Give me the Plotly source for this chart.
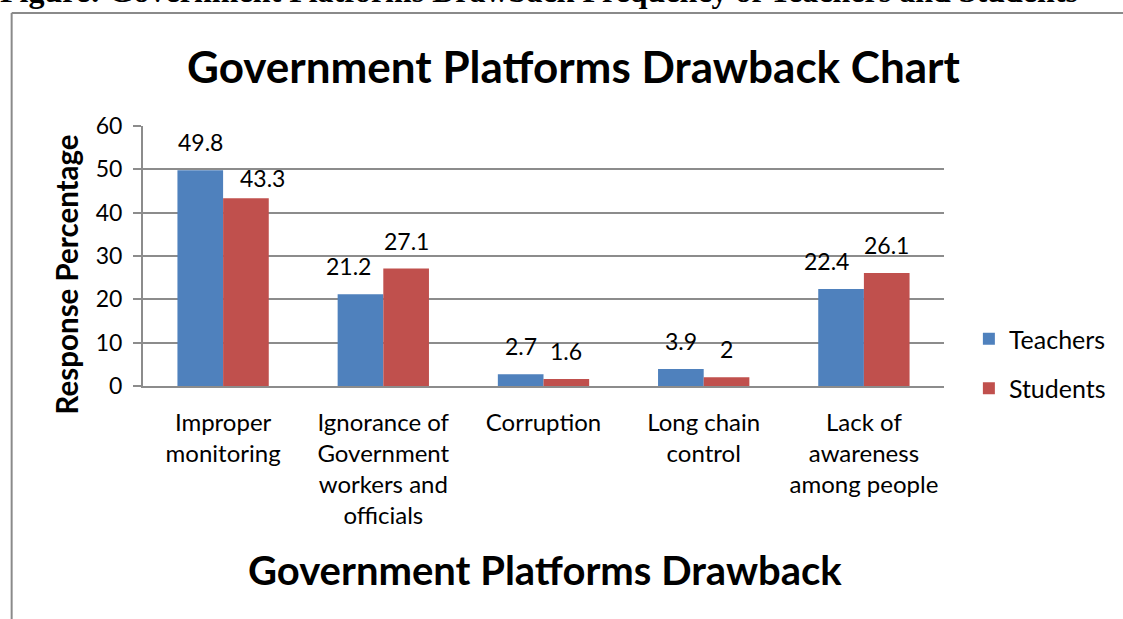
import plotly.graph_objects as go

# ---- data ----
categories = [
    "Improper<br>monitoring",
    "Ignorance of<br>Government<br>workers and<br>officials",
    "Corruption",
    "Long chain<br>control",
    "Lack of<br>awareness<br>among people",
]
teachers = [49.8, 21.2, 2.7, 3.9, 22.4]
students = [43.3, 27.1, 1.6, 2.0, 26.1]
series_names = ["Teachers", "Students"]
y_ticks = [0, 10, 20, 30, 40, 50, 60]

# ---- style ----
W, H = 1123, 619
ML, MR, MT, MB = 143, 175, 126, 233
PW, PH = W - ML - MR, H - MT - MB
FONT = "Lato"
BLUE, RED = "#4F81BD", "#C0504D"
GRID = "#8c8c8c"
BARGAP = 0.43

def px_x(px):
    return (px - ML) / PW

def px_y(py):
    return (H - MB - py) / PH

fig = go.Figure()
for name, vals, col in [(series_names[0], teachers, BLUE), (series_names[1], students, RED)]:
    fig.add_trace(go.Bar(
        x=categories, y=vals, name=name, marker=dict(color=col, line=dict(width=0)),
        legendgroup=name,
    ))

# data labels (Excel-like, a few manually nudged as in the original)
bar_w = PW / len(categories) * (1 - BARGAP) / 2
nudge = {(0, 1): (16, -8), (1, 0): (-12, 0), (4, 0): (-14, 0)}
for s, vals in enumerate([teachers, students]):
    for i, v in enumerate(vals):
        dx, dy = nudge.get((i, s), (0, 0))
        fig.add_annotation(
            x=categories[i], y=v, xref="x", yref="y",
            text=f"{v:g}", showarrow=False, yanchor="bottom", xanchor="center",
            xshift=(-bar_w / 2 if s == 0 else bar_w / 2) + dx, yshift=12 + dy,
            font=dict(family=FONT, size=23, color="#000"),
        )

# y axis title
fig.add_annotation(
    x=px_x(66), y=px_y(274), xref="paper", yref="paper", xanchor="center", yanchor="middle",
    text="<b>Response Percentage</b>",
    textangle=-90, showarrow=False, font=dict(family=FONT, size=29.5, color="#000"),
)
# x axis title
fig.add_annotation(
    x=px_x(547), y=px_y(570), xref="paper", yref="paper", xanchor="center", yanchor="middle",
    text="<b>Government Platforms Drawback</b>",
    showarrow=False, font=dict(family=FONT, size=40, color="#000"),
)
# chart title
fig.add_annotation(
    x=px_x(576), y=px_y(66), xref="paper", yref="paper", xanchor="center", yanchor="middle",
    text="<b>Government Platforms Drawback Chart</b>",
    showarrow=False, font=dict(family=FONT, size=44, color="#000"),
)
# cut-off figure caption at the very top
fig.add_annotation(
    x=px_x(-3), y=px_y(11), xref="paper", yref="paper", xanchor="left", yanchor="bottom",
    text="<b>Figure: Government Platforms Drawback Frequency of Teachers and Students</b>",
    showarrow=False, font=dict(family="Liberation Serif", size=32, color="#000"),
)

# chart border (left and top)
fig.add_shape(type="line", xref="paper", yref="paper", x0=px_x(11), x1=px_x(11), y0=px_y(13), y1=px_y(H + 5),
              line=dict(color="#8a8a8a", width=2))
fig.add_shape(type="line", xref="paper", yref="paper", x0=px_x(11), x1=px_x(W + 5), y0=px_y(13), y1=px_y(13),
              line=dict(color="#8a8a8a", width=2))

fig.update_layout(
    width=W, height=H, margin=dict(l=ML, r=MR, t=MT, b=MB, pad=0),
    paper_bgcolor="white", plot_bgcolor="white",
    barmode="group", bargap=BARGAP, bargroupgap=0,
    font=dict(family=FONT, color="#000"),
    showlegend=True,
    legend=dict(x=px_x(973), y=px_y(316), xanchor="left", yanchor="top",
                font=dict(family=FONT, size=25, color="#000"), tracegroupgap=14,
                bgcolor="rgba(0,0,0,0)"),
    xaxis=dict(showline=True, linecolor=GRID, linewidth=2, ticks="", showgrid=False,
               tickfont=dict(family=FONT, size=24, color="#000"), ticklabelstandoff=14),
    yaxis=dict(range=[0, 60], tickvals=y_ticks, showline=True, linecolor=GRID, linewidth=2,
               ticks="outside", ticklen=8, tickcolor=GRID, tickwidth=2,
               showgrid=True, gridcolor=GRID, gridwidth=2, zeroline=False,
               tickfont=dict(family=FONT, size=23, color="#000"), ticklabelstandoff=6),
)

fig.write_html("out.html")
